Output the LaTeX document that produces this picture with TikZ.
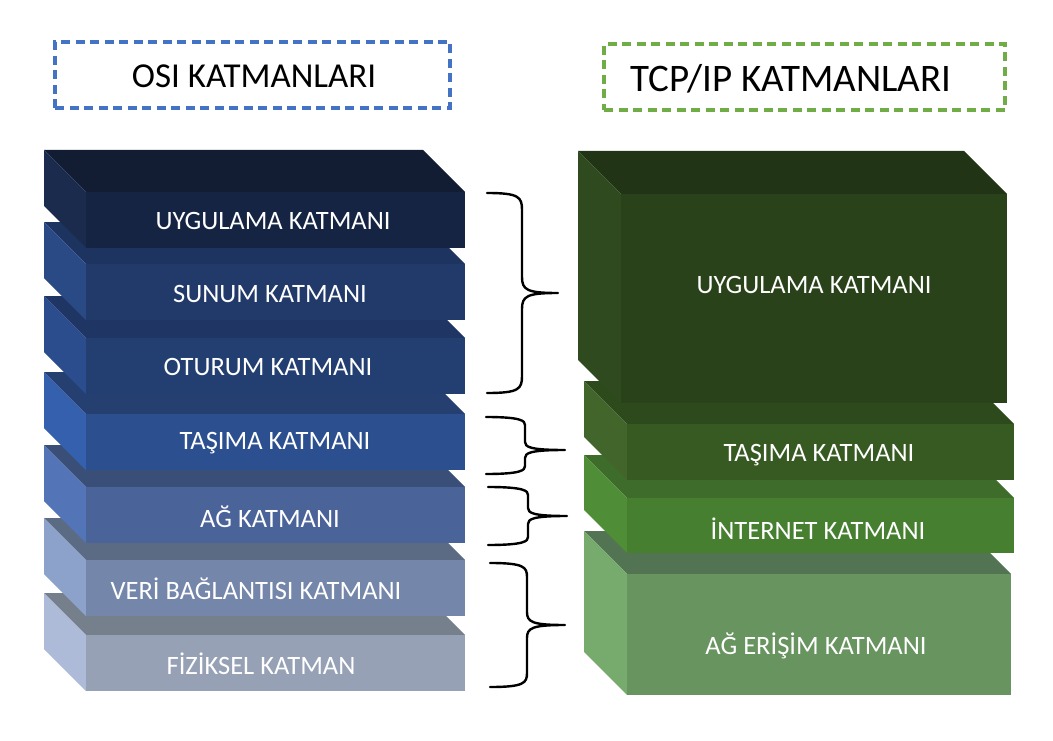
\documentclass[tikz,border=0pt]{standalone}
\usepackage{fontspec}
\setmainfont{Carlito}
\begin{document}
\begin{tikzpicture}[x=1pt,y=-1pt,
  lbl/.style={text=white,font=\fontsize{26.5}{31}\selectfont,inner sep=0pt},
  ttl/.style={font=\fontsize{35}{41}\selectfont,inner sep=0pt},
  brc/.style={draw=black,line width=2.4pt,line cap=round,line join=round},
  osibox/.style={draw={rgb,255:red,68;green,114;blue,196},line width=3.2pt,dash pattern=on 9pt off 5.5pt},
  tcpbox/.style={draw={rgb,255:red,112;green,173;blue,71},line width=3.2pt,dash pattern=on 9pt off 5.5pt}]
\useasboundingbox (0,0) rectangle (1053,741);
% #1 x0, #2 ytop, #3 w, #4 h, #5 d, #6 top, #7 side, #8 front
\newcommand\layerblock[8]{%
  \fill[#6] (#1,#2) -- ({#1+#3},#2) -- ({#1+#3+#5},{#2+#5}) -- ({#1+#5},{#2+#5}) -- cycle;
  \fill[#7] (#1,#2) -- ({#1+#5},{#2+#5}) -- ({#1+#5},{#2+#5+#4}) -- (#1,{#2+#4}) -- cycle;
  \fill[#8] ({#1+#5},{#2+#5}) rectangle ({#1+#5+#3},{#2+#5+#4});
}
% #1 x0, #2 xv, #3 xt, #4 ytop, #5 ymid, #6 ybot, #7 r, #8 r2
\newcommand\bracket[8]{%
  \draw[brc] (#1,#4) .. controls ({#2-3},#4) and (#2,{#4+4}) .. (#2,{#4+#7})
    -- (#2,{#5-#8}) .. controls (#2,{#5-3}) and ({#2+5},#5) .. (#3,#5)
    .. controls ({#2+5},#5) and (#2,{#5+3}) .. (#2,{#5+#8})
    -- (#2,{#6-#7}) .. controls (#2,{#6-4}) and ({#2-3},#6) .. (#1,#6);
}
% OSI stack, bottom first
\layerblock{44}{593}{379}{56}{42}{fill={rgb,255:red,118;green,127;blue,140}}{fill={rgb,255:red,173;green,187;blue,216}}{fill={rgb,255:red,150;green,161;blue,181}}
\layerblock{44}{518}{379}{56}{42}{fill={rgb,255:red,92;green,107;blue,132}}{fill={rgb,255:red,141;green,162;blue,203}}{fill={rgb,255:red,117;green,134;blue,171}}
\layerblock{44}{445}{379}{56}{42}{fill={rgb,255:red,58;green,79;blue,120}}{fill={rgb,255:red,84;green,116;blue,184}}{fill={rgb,255:red,74;green,99;blue,153}}
\layerblock{44}{372}{379}{56}{42}{fill={rgb,255:red,37;green,63;blue,112}}{fill={rgb,255:red,53;green,96;blue,174}}{fill={rgb,255:red,44;green,79;blue,143}}
\layerblock{44}{296}{379}{56}{42}{fill={rgb,255:red,31;green,53;blue,99}}{fill={rgb,255:red,43;green,77;blue,142}}{fill={rgb,255:red,35;green,62;blue,112}}
\layerblock{44}{222}{379}{56}{42}{fill={rgb,255:red,29;green,52;blue,96}}{fill={rgb,255:red,42;green,74;blue,134}}{fill={rgb,255:red,33;green,58;blue,106}}
\layerblock{44}{150}{379}{56}{42}{fill={rgb,255:red,18;green,28;blue,51}}{fill={rgb,255:red,27;green,43;blue,78}}{fill={rgb,255:red,22;green,36;blue,67}}
% TCP/IP stack, bottom first
\layerblock{584}{531}{384}{121}{43}{fill={rgb,255:red,83;green,116;blue,82}}{fill={rgb,255:red,119;green,171;blue,109}}{fill={rgb,255:red,103;green,148;blue,95}}
\layerblock{584}{455}{387}{55}{43}{fill={rgb,255:red,62;green,108;blue,43}}{fill={rgb,255:red,79;green,141;blue,55}}{fill={rgb,255:red,71;green,127;blue,49}}
\layerblock{584}{381}{387}{56}{43}{fill={rgb,255:red,45;green,74;blue,28}}{fill={rgb,255:red,65;green,101;blue,42}}{fill={rgb,255:red,55;green,90;blue,34}}
\layerblock{578}{151}{386}{209}{43}{fill={rgb,255:red,33;green,52;blue,21}}{fill={rgb,255:red,46;green,74;blue,30}}{fill={rgb,255:red,42;green,66;blue,25}}
% titles
\node[osibox,minimum width=395pt,minimum height=66pt] (osititle) at (252.5,75) {};
\node[ttl] (ositext) at (254,76) {OSI KATMANLARI};
\node[tcpbox,minimum width=401pt,minimum height=66pt] (tcptitle) at (804.5,77) {};
\node[ttl,font=\fontsize{39}{45}\selectfont] (tcptext) at (791,79) {TCP/IP KATMANLARI};
% labels
\node[lbl] (o1) at (273,221) {UYGULAMA KATMANI};
\node[lbl] (o2) at (270,294) {SUNUM KATMANI};
\node[lbl] (o3) at (268,367) {OTURUM KATMANI};
\node[lbl] (o4) at (275,443) {TAŞIMA KATMANI};
\node[lbl] (o5) at (270,517) {AĞ KATMANI};
\node[lbl] (o6) at (256,589) {VERİ BAĞLANTISI KATMANI};
\node[lbl] (o7) at (261,664) {FİZİKSEL KATMAN};
\node[lbl] (t1) at (814,285) {UYGULAMA KATMANI};
\node[lbl] (t2) at (819,455) {TAŞIMA KATMANI};
\node[lbl] (t3) at (818,529) {İNTERNET KATMANI};
\node[lbl] (t4) at (816,646) {AĞ ERİŞİM KATMANI};
% braces
\bracket{487}{522}{558}{193}{293}{393}{17}{16}
\bracket{486}{525}{565}{417}{450}{474}{8}{8}
\bracket{488}{528}{567}{487}{516}{545}{8}{8}
\bracket{490}{527}{565}{563}{625}{687}{14}{13}
\end{tikzpicture}
\end{document}
